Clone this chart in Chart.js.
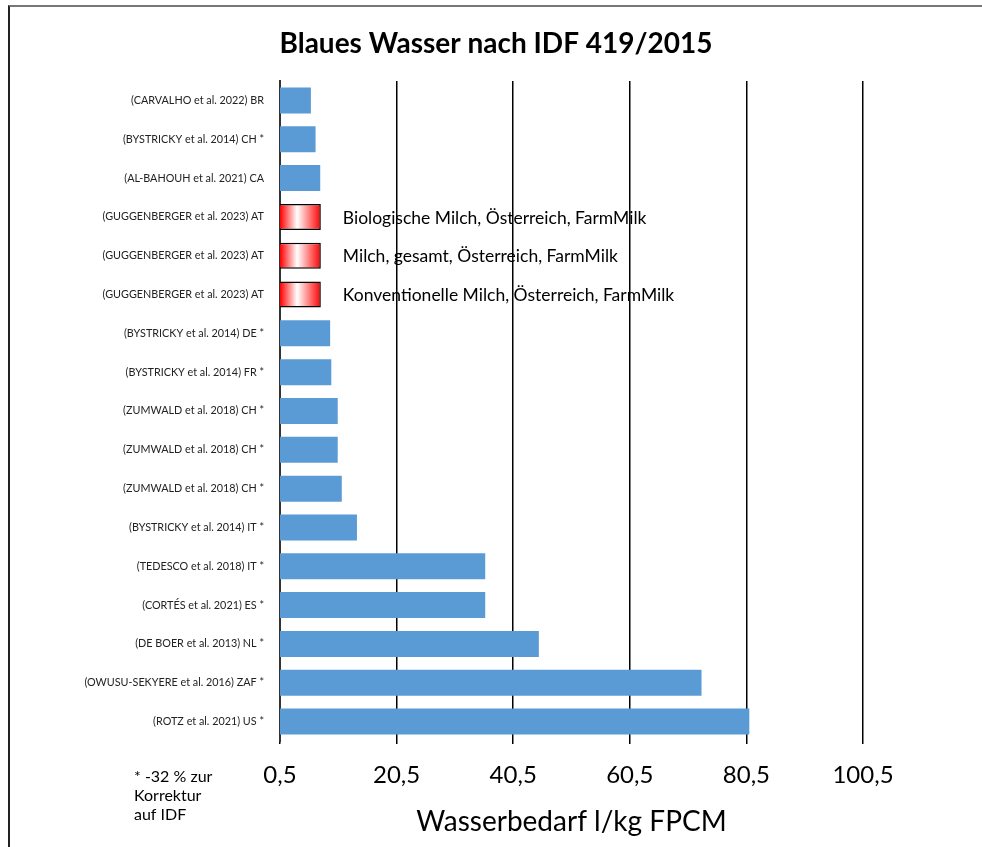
<!DOCTYPE html>
<html>
<head>
<meta charset="utf-8">
<script src="https://cdn.jsdelivr.net/npm/chart.js@4/dist/chart.umd.min.js"></script>
<style>
  html, body { margin: 0; padding: 0; background: #fff; }
  #wrap { position: relative; width: 982px; height: 847px; }
  #frame { position: absolute; left: 8px; top: 5px; right: 0; bottom: 0;
           border-top: 2px solid #777; border-left: 2px solid #222; }
  canvas { position: absolute; left: 0; top: 0; }
</style>
</head>
<body>
<div id="wrap">
  <div id="frame"></div>
  <canvas id="waterChart" width="982" height="847"></canvas>
</div>
<script>
// Studien (von oben nach unten)
const studies = [
    "(CARVALHO et al. 2022) BR",
    "(BYSTRICKY et al. 2014) CH *",
    "(AL-BAHOUH et al. 2021) CA",
    "(GUGGENBERGER et al. 2023) AT",
    "(GUGGENBERGER et al. 2023) AT",
    "(GUGGENBERGER et al. 2023) AT",
    "(BYSTRICKY et al. 2014) DE *",
    "(BYSTRICKY et al. 2014) FR *",
    "(ZUMWALD et al. 2018) CH *",
    "(ZUMWALD et al. 2018) CH *",
    "(ZUMWALD et al. 2018) CH *",
    "(BYSTRICKY et al. 2014) IT *",
    "(TEDESCO et al. 2018) IT *",
    "(CORTÉS et al. 2021) ES *",
    "(DE BOER et al. 2013) NL *",
    "(OWUSU-SEKYERE et al. 2016) ZAF *",
    "(ROTZ et al. 2021) US *"
];

// Wasserbedarf l/kg FPCM
const waterUse = [5.8, 6.6, 7.4, 7.5, 7.5, 7.5, 9.1, 9.3, 10.4, 10.4, 11.1, 13.7, 35.7, 35.7, 44.9, 72.8, 81.0];

// FarmMilk-Ergebnisse
const farmMilkNotes = [
    null, null, null,
    "Biologische Milch, Österreich, FarmMilk",
    "Milch, gesamt, Österreich, FarmMilk",
    "Konventionelle Milch, Österreich, FarmMilk",
    null, null, null, null, null, null, null, null, null, null, null
];

const xTicks = [0.5, 20.5, 40.5, 60.5, 80.5, 100.5];

const FONT = "Lato, 'Open Sans', sans-serif";
const BLUE = "#5b9bd5";

// Titel, Notizen und Fussnote
const textPlugin = {
    id: "texts",
    afterDatasetsDraw(chart) {
        const ctx = chart.ctx;
        const xs = chart.scales.x;
        const ys = chart.scales.y;
        ctx.save();
        ctx.fillStyle = "#000";
        ctx.textAlign = "center";
        ctx.textBaseline = "middle";
        ctx.font = "bold 28px " + FONT;
        ctx.fillText("Blaues Wasser nach IDF 419/2015", 496, 44);

        ctx.textAlign = "left";
        ctx.font = "17.5px " + FONT;
        farmMilkNotes.forEach((note, i) => {
            if (!note) return;
            ctx.fillText(note, xs.getPixelForValue(waterUse[i]) + 22, ys.getPixelForValue(i) + 1);
        });

        ctx.font = "16px " + FONT;
        ["* -32 % zur", "Korrektur", "auf IDF"].forEach((line, i) => {
            ctx.fillText(line, 134, 777 + i * 19);
        });
        ctx.restore();
    }
};

function barFill(context) {
    const i = context.dataIndex;
    if (!farmMilkNotes[i]) return BLUE;
    const chart = context.chart;
    if (!chart.chartArea) return "#ff0000";
    const xs = chart.scales.x;
    const x0 = xs.getPixelForValue(xs.min);
    const x1 = xs.getPixelForValue(waterUse[i]);
    const g = chart.ctx.createLinearGradient(x0, 0, x1, 0);
    g.addColorStop(0, "#ff0000");
    g.addColorStop(0.42, "#ffffff");
    g.addColorStop(1, "#ff0000");
    return g;
}

new Chart(document.getElementById("waterChart"), {
    type: "bar",
    data: {
        labels: studies,
        datasets: [{
            data: waterUse,
            backgroundColor: barFill,
            borderColor: "#000",
            borderWidth: (c) => farmMilkNotes[c.dataIndex] ? 1.5 : 0,
            borderSkipped: false,
            barPercentage: 0.67,
            categoryPercentage: 1
        }]
    },
    options: {
        indexAxis: "y",
        responsive: false,
        animation: false,
        layout: { padding: { top: 81, right: 119, left: 0, bottom: 0 } },
        plugins: {
            legend: { display: false },
            tooltip: { enabled: false }
        },
        scales: {
            x: {
                type: "linear",
                min: 0.5,
                max: 100.5,
                afterBuildTicks: (scale) => { scale.ticks = xTicks.map(v => ({ value: v })); },
                afterFit: (scale) => { scale.height = 106; },
                ticks: {
                    font: { size: 24, family: FONT },
                    color: "#000",
                    padding: 17,
                    maxRotation: 0,
                    callback: (v) => String(v).replace(".", ",")
                },
                grid: { color: "#000", lineWidth: 1.5, tickLength: 3 },
                border: { display: false },
                title: {
                    display: true,
                    text: "Wasserbedarf l/kg FPCM",
                    font: { size: 28, family: FONT },
                    color: "#000",
                    padding: { top: 0, bottom: 8 }
                }
            },
            y: {
                afterFit: (scale) => { scale.width = 280; },
                ticks: {
                    font: { size: 10.8, family: FONT },
                    color: "#222",
                    padding: 8
                },
                grid: { display: false },
                border: { display: true, color: "#333", width: 2 }
            }
        }
    },
    plugins: [textPlugin]
});
</script>
</body>
</html>
